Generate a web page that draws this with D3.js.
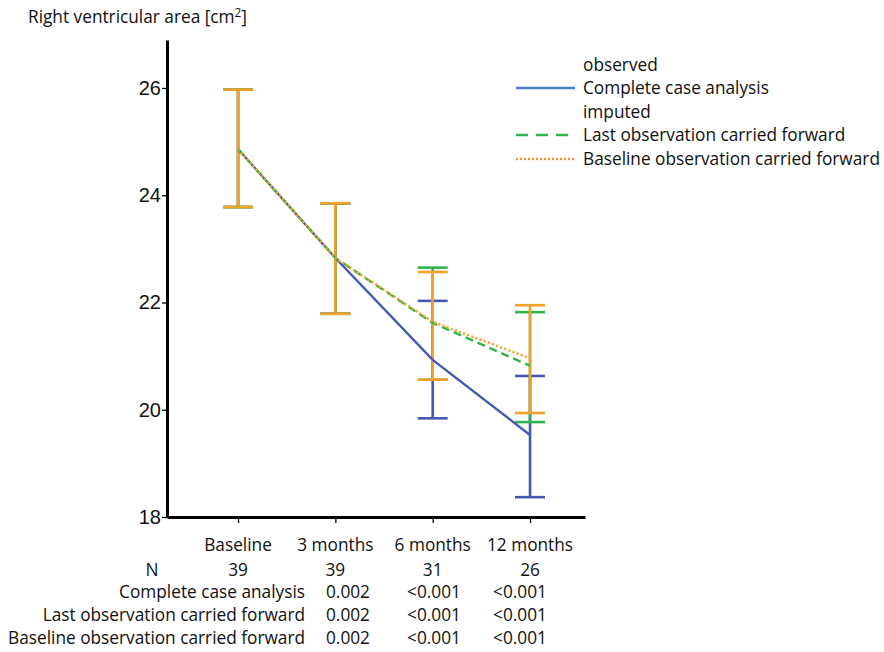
<!DOCTYPE html>
<html>
<head>
<meta charset="utf-8">
<script src="https://cdn.jsdelivr.net/npm/d3@7"></script>
<style>
  body { margin: 0; background: #fff; }
  .axis path, .axis line { stroke: #000; }
  .lbl { font-family: "Open Sans", Lato, sans-serif; fill: #111; }
</style>
</head>
<body>
<div id="chart"></div>
<script>
// Data
const timepoints = ["Baseline", "3 months", "6 months", "12 months"];
const yTicks = [18, 20, 22, 24, 26];

const ccaMean  = [24.86, 22.83, 20.93, 19.53];
const ccaLow   = [23.78, 21.79, 19.84, 18.37];
const ccaHigh  = [25.97, 23.85, 22.03, 20.63];

const locfMean = [24.86, 22.83, 21.62, 20.82];
const locfLow  = [23.78, 21.79, 20.56, 19.77];
const locfHigh = [25.97, 23.85, 22.65, 21.82];

const bocfMean = [24.86, 22.83, 21.64, 20.96];
const bocfLow  = [23.78, 21.79, 20.56, 19.94];
const bocfHigh = [25.97, 23.85, 22.57, 21.95];

const nValues = ["39", "39", "31", "26"];
const pCca  = ["0.002", "<0.001", "<0.001"];
const pLocf = ["0.002", "<0.001", "<0.001"];
const pBocf = ["0.002", "<0.001", "<0.001"];

// Dimensions
const width = 884;
const height = 652;

const svg = d3.select("#chart")
  .append("svg")
    .attr("width", width)
    .attr("height", height);

// fit the label font so the longest label spans what the reference shows
const probe = svg.append("text").attr("class", "lbl").attr("font-size", 16)
  .text("Baseline observation carried forward");
const fontSize = 16 * 297 / probe.node().getComputedTextLength();
probe.remove();
svg.style("font-size", fontSize + "px");

const xScale = d3.scaleLinear()
  .domain([-0.73, 3.565])
  .range([167, 585]);
const yScale = d3.scaleLinear()
  .domain([18, 26.895])
  .range([517, 40]);

// Axes
const leftAxis = d3.axisLeft(yScale)
  .tickValues(yTicks)
  .tickSize(5)
  .tickPadding(1)
  .tickSizeOuter(0);
svg.append("g")
    .attr("class", "axis axis-y")
    .attr("transform", `translate(${xScale.range()[0]}, 0)`)
    .call(leftAxis);
svg.selectAll(".axis-y text")
  .attr("font-family", "'Liberation Sans', Arial, sans-serif")
  .attr("font-size", 20)
  .attr("fill", "#111");

const bottomAxis = d3.axisBottom(xScale)
  .tickValues(d3.range(timepoints.length))
  .tickFormat("")
  .tickSize(6)
  .tickSizeOuter(0);
svg.append("g")
    .attr("class", "axis axis-x")
    .attr("transform", `translate(0, ${yScale.range()[0]})`)
    .call(bottomAxis);
svg.selectAll(".axis path").attr("stroke-width", 3);
svg.selectAll(".axis line").attr("stroke-width", 1.3);

// Title
const title = svg.append("text")
    .attr("class", "lbl")
    .attr("x", 28)
    .attr("y", 23)
    .text("Right ventricular area [cm");
title.append("tspan").attr("dy", -6).attr("font-size", "0.68em").text("2");
title.append("tspan").attr("dy", 6).text("]");

// Series
const series = [
  { name: "cca",  mean: ccaMean,  low: ccaLow,  high: ccaHigh,  color: "#4659b2", dash: null },
  { name: "locf", mean: locfMean, low: locfLow, high: locfHigh, color: "#2fb34b", dash: "8,5" },
  { name: "bocf", mean: bocfMean, low: bocfLow, high: bocfHigh, color: "#f4a128", dash: "2.2,2.2" }
];

const line = d3.line()
  .x((d, i) => xScale(i))
  .y(d => yScale(d));

const capHalf = 15;
series.forEach(s => {
  const g = svg.append("g").attr("class", `series ${s.name}`);
  const idx = d3.range(timepoints.length);
  g.selectAll(".bar")
    .data(idx)
    .join("line")
      .attr("x1", i => xScale(i))
      .attr("x2", i => xScale(i))
      .attr("y1", i => yScale(s.low[i]))
      .attr("y2", i => yScale(s.high[i]))
      .attr("stroke", s.color)
      .attr("stroke-width", 2.6);
  g.selectAll(".cap-low")
    .data(idx)
    .join("line")
      .attr("x1", i => xScale(i) - capHalf)
      .attr("x2", i => xScale(i) + capHalf)
      .attr("y1", i => yScale(s.low[i]))
      .attr("y2", i => yScale(s.low[i]))
      .attr("stroke", s.color)
      .attr("stroke-width", 2.6);
  g.selectAll(".cap-high")
    .data(idx)
    .join("line")
      .attr("x1", i => xScale(i) - capHalf)
      .attr("x2", i => xScale(i) + capHalf)
      .attr("y1", i => yScale(s.high[i]))
      .attr("y2", i => yScale(s.high[i]))
      .attr("stroke", s.color)
      .attr("stroke-width", 2.6);
});

series.forEach(s => {
  svg.append("path")
    .datum(s.mean)
    .attr("d", line)
    .attr("fill", "none")
    .attr("stroke", s.color)
    .attr("stroke-width", 2.4)
    .attr("stroke-dasharray", s.dash);
});

// Legend
const legendX = 583;
const legendRows = [
  { text: "observed", y: 66 },
  { text: "Complete case analysis", y: 89, color: "#4f7cc4", dash: null },
  { text: "imputed", y: 113 },
  { text: "Last observation carried forward", y: 136, color: "#2fb34b", dash: "12,8" },
  { text: "Baseline observation carried forward", y: 160, color: "#f7953a", dash: "2,2" }
];
legendRows.forEach(r => {
  if (r.color) {
    svg.append("line")
      .attr("x1", 516).attr("x2", 575)
      .attr("y1", r.y - 1).attr("y2", r.y - 1)
      .attr("stroke", r.color)
      .attr("stroke-width", 2.4)
      .attr("stroke-dasharray", r.dash);
  }
  svg.append("text")
    .attr("class", "lbl")
    .attr("x", legendX)
    .attr("y", r.y + 5)
    .text(r.text);
});

// Table under the axis
svg.selectAll(".xlabel")
  .data(timepoints)
  .join("text")
    .attr("class", "lbl")
    .attr("x", (d, i) => xScale(i))
    .attr("y", 551)
    .attr("text-anchor", "middle")
    .text(d => d);

svg.append("text").attr("class", "lbl")
  .attr("x", 152).attr("y", 576).attr("text-anchor", "middle").text("N");
svg.selectAll(".nval")
  .data(nValues)
  .join("text")
    .attr("class", "lbl")
    .attr("x", (d, i) => xScale(i))
    .attr("y", 576)
    .attr("text-anchor", "middle")
    .text(d => d);

const pScale = d3.scaleLinear().domain([0, 2]).range([348, 520]);
const pRows = [
  { label: "Complete case analysis", vals: pCca, y: 598 },
  { label: "Last observation carried forward", vals: pLocf, y: 621 },
  { label: "Baseline observation carried forward", vals: pBocf, y: 644 }
];
pRows.forEach(r => {
  svg.append("text").attr("class", "lbl")
    .attr("x", 305).attr("y", r.y).attr("text-anchor", "end").text(r.label);
  r.vals.forEach((v, i) => {
    svg.append("text").attr("class", "lbl")
      .attr("x", pScale(i)).attr("y", r.y).attr("text-anchor", "middle").text(v);
  });
});
</script>
</body>
</html>
